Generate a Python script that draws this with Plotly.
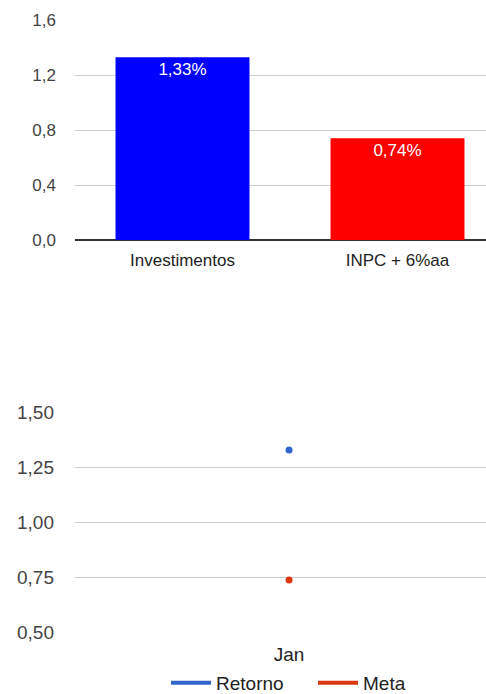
import plotly.graph_objects as go

# Data
bar_categories = ["Investimentos", "INPC + 6%aa"]
bar_values = [1.33, 0.74]
bar_colors = ["#0000ff", "#ff0000"]

months = ["Jan"]
retorno = [1.33]
meta = [0.74]

top_ticks = [0.0, 0.4, 0.8, 1.2, 1.6]
bottom_ticks = [0.50, 0.75, 1.00, 1.25, 1.50]

FONT = "Arial, Liberation Sans, sans-serif"
W, H = 486, 694
L = 75

def yfrac(py):
    return 1 - py / H

fig = go.Figure()

fig.add_trace(go.Bar(
    x=bar_categories, y=bar_values,
    marker=dict(color=bar_colors, line=dict(width=0)),
    width=0.623,
    text=[f"{v:.2f}".replace(".", ",") + "%" for v in bar_values],
    textposition="inside", insidetextanchor="end",
    textfont=dict(color="white", size=17, family=FONT),
    showlegend=False, xaxis="x", yaxis="y",
))

# legend entries (line style)
fig.add_trace(go.Scatter(x=months, y=retorno, mode="lines", name="Retorno",
                         line=dict(color="#3366cc", width=4), xaxis="x2", yaxis="y2"))
fig.add_trace(go.Scatter(x=months, y=meta, mode="lines", name="Meta",
                         line=dict(color="#dc3912", width=4), xaxis="x2", yaxis="y2"))
# points
fig.add_trace(go.Scatter(x=months, y=retorno, mode="markers", showlegend=False,
                         marker=dict(color="#3366cc", size=7), xaxis="x2", yaxis="y2"))
fig.add_trace(go.Scatter(x=months, y=meta, mode="markers", showlegend=False,
                         marker=dict(color="#dc3912", size=7), xaxis="x2", yaxis="y2"))

fig.update_layout(
    width=W, height=H,
    margin=dict(l=L, r=0, t=0, b=0, pad=0, autoexpand=False),
    paper_bgcolor="white", plot_bgcolor="white",
    separators=",.",
    font=dict(family=FONT, color="#444"),
    xaxis=dict(domain=[0, 1], range=[-0.5, 1.4116], anchor="y", automargin=False,
               showgrid=False, showline=False, zeroline=False,
               ticks="", ticklabelstandoff=8,
               tickfont=dict(size=17, color="#222", family=FONT)),
    yaxis=dict(domain=[yfrac(240), yfrac(20)], range=[0, 1.6], anchor="x", automargin=False,
               tickvals=top_ticks, tickformat=".1f",
               showgrid=True, gridcolor="#cccccc", gridwidth=1,
               zeroline=True, zerolinecolor="#333333", zerolinewidth=2,
               showline=False, ticks="", ticklabelstandoff=18,
               tickfont=dict(size=17, color="#444", family=FONT)),
    xaxis2=dict(domain=[0, 1], range=[-0.5, 0.46], anchor="y2", automargin=False,
                showgrid=False, showline=False, zeroline=False,
                ticks="", ticklabelstandoff=8,
                tickfont=dict(size=19, color="#222", family=FONT)),
    yaxis2=dict(domain=[yfrac(632.7), yfrac(412.7)], range=[0.5, 1.5], anchor="x2", automargin=False,
                tickvals=bottom_ticks, tickformat=".2f",
                showgrid=True, gridcolor="#cccccc", gridwidth=1,
                zeroline=False, showline=False, ticks="", ticklabelstandoff=20,
                tickfont=dict(size=19, color="#444", family=FONT)),
    legend=dict(orientation="h", x=(166 - L) / (W - L), xanchor="left",
                y=yfrac(683), yanchor="middle", itemwidth=40, entrywidth=92,
                font=dict(size=19, color="#222", family=FONT),
                bgcolor="rgba(0,0,0,0)"),
)

fig.write_html("out.html", config={"displayModeBar": False},
               post_script="document.body.style.margin='0';document.body.style.overflow='hidden';")
